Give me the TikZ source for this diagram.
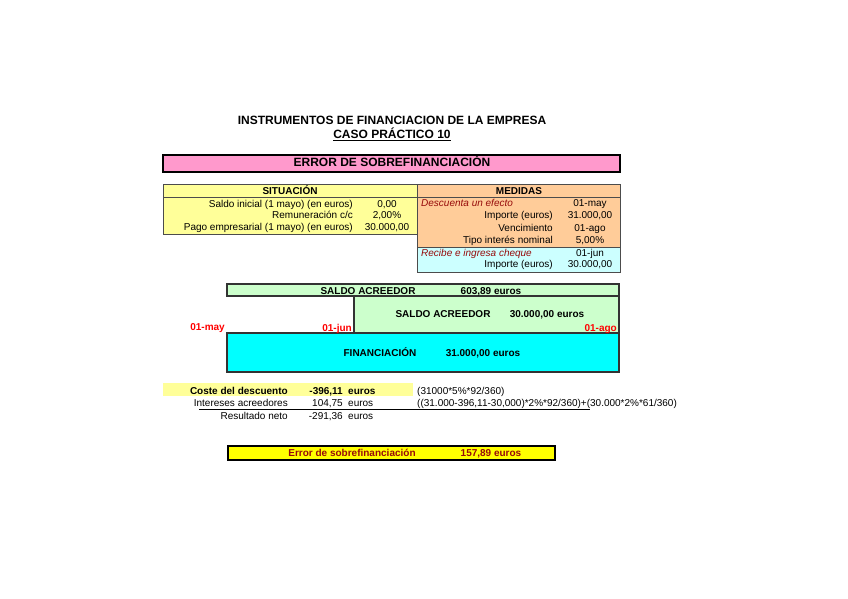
\documentclass[tikz,border=0pt]{standalone}
\usepackage{fontspec}
\setmainfont{Liberation Sans}
\usetikzlibrary{positioning}
\definecolor{rosa}{RGB}{255,153,204}
\definecolor{amarillo}{RGB}{255,255,153}
\definecolor{amarilloint}{RGB}{255,255,0}
\definecolor{melocoton}{RGB}{255,204,153}
\definecolor{celeste}{RGB}{204,255,255}
\definecolor{verde}{RGB}{204,255,204}
\definecolor{cian}{RGB}{0,255,255}
\definecolor{granate}{RGB}{150,10,10}

\begin{document}
\begin{tikzpicture}[
    x=1pt,y=-1pt,
    t/.style={font=\fontsize{10}{12}\selectfont,inner sep=0pt,text height=7.2pt,text depth=0pt},
    tb/.style={t,font=\fontsize{10}{12}\selectfont\bfseries},
    ti/.style={t,font=\fontsize{10}{12}\selectfont\itshape,text=granate,anchor=west},
    big/.style={font=\fontsize{12}{14}\selectfont\bfseries,inner sep=0pt,text height=8.6pt,text depth=0pt},
    lbl/.style={t,anchor=east},
    fecha/.style={tb,text=red,anchor=east},
    caja/.style={draw=black!70,line width=.6pt},
    marco/.style={draw=black!80,line width=1.2pt},
    gruesa/.style={draw=black,line width=1.8pt}
  ]
    \useasboundingbox (0,0) rectangle (848,599);
    % cabecera
    \node[big] (tit1) at (392,120) {INSTRUMENTOS DE FINANCIACION DE LA EMPRESA};
    \node[big,below=5.4pt of tit1] (tit2) {\underline{CASO PRÁCTICO 10}};
    \path[gruesa,fill=rosa] (163,155) rectangle (620,172);
    \node[big] (err) at (392,162) {ERROR DE SOBREFINANCIACIÓN};
    % situacion / medidas
    \path[caja,fill=amarillo] (163,184) rectangle (417,234);
    \path[caja,fill=melocoton] (417,184) rectangle (620,247);
    \path[caja,fill=celeste] (417,247) rectangle (620,272);
    \draw[caja] (163,197) -- (620,197);
    \node[tb] (sit) at (290,191) {SITUACIÓN}; \node[tb] (med) at (519,191) {MEDIDAS};
    \foreach \y/\l/\v [count=\i] in {204/{Saldo inicial (1 mayo) (en euros)}/{0,00},
        215/{Remuneración c/c}/{2,00\%},227/{Pago empresarial (1 mayo) (en euros)}/{30.000,00}}
      {\node[lbl] (sitl\i) at (353,\y) {\l}; \node[t] (sitv\i) at (387,\y) {\v};}
    \node[ti] (desc) at (421,203) {Descuenta un efecto}; \node[t] (descv) at (590,203) {01-may};
    \foreach \y/\l/\v [count=\i] in {215/{Importe (euros)}/{31.000,00},228/{Vencimiento}/{01-ago},
        240/{Tipo interés nominal}/{5,00\%}}
      {\node[lbl] (medl\i) at (553,\y) {\l}; \node[t] (medv\i) at (590,\y) {\v};}
    \node[ti] (rec) at (421,253) {Recibe e ingresa cheque}; \node[t] (recv) at (590,253) {01-jun};
    \node[lbl] (recl) at (553,264) {Importe (euros)}; \node[t] (recv2) at (590,264) {30.000,00};
    % cronograma
    \path[marco,fill=verde] (227,284) rectangle (619,296);
    \path[marco,fill=verde] (354,296) rectangle (619,333);
    \path[marco,fill=cian] (227,333) rectangle (619,372);
    \node[tb] (sa1) at (368,291) {SALDO ACREEDOR}; \node[tb] (sa1v) at (491,291) {603,89 euros};
    \node[tb] (sa2) at (443,314) {SALDO ACREEDOR}; \node[tb] (sa2v) at (547,314) {30.000,00 euros};
    \node[tb] (fin) at (380,353) {FINANCIACIÓN}; \node[tb] (finv) at (483,353) {31.000,00 euros};
    \node[fecha] (f1) at (225,327) {01-may}; \node[fecha] (f2) at (352,328) {01-jun};
    \node[fecha] (f3) at (617,328) {01-ago};
    % resultado
    \fill[amarillo] (163,383) rectangle (413,396);
    \node[tb,anchor=east] (cos) at (288,391) {Coste del descuento};
    \node[tb,anchor=east] (cosv) at (343,391) {-396,11}; \node[tb,anchor=west] (cose) at (348,391) {euros};
    \node[t,anchor=west] (cosf) at (417,391) {(31000*5\%*92/360)};
    \node[lbl] (int) at (288,403) {Intereses acreedores};
    \node[lbl] (intv) at (343,403) {104,75}; \node[t,anchor=west] (inte) at (348,403) {euros};
    \node[t,anchor=west] (intf) at (417,403) {((31.000-396,11-30,000)*2\%*92/360)+(30.000*2\%*61/360)};
    \draw[line width=.7pt] (199,409) -- (590,409);
    \node[lbl] (res) at (288,416) {Resultado neto};
    \node[lbl] (resv) at (343,416) {-291,36}; \node[t,anchor=west] (rese) at (348,416) {euros};
    \path[gruesa,fill=amarilloint] (228,446) rectangle (555,460);
    \node[tb,text=granate] (sob) at (352,453) {Error de sobrefinanciación};
    \node[tb,text=granate] (sobv) at (491,453) {157,89 euros};
  \end{tikzpicture}
\end{document}
